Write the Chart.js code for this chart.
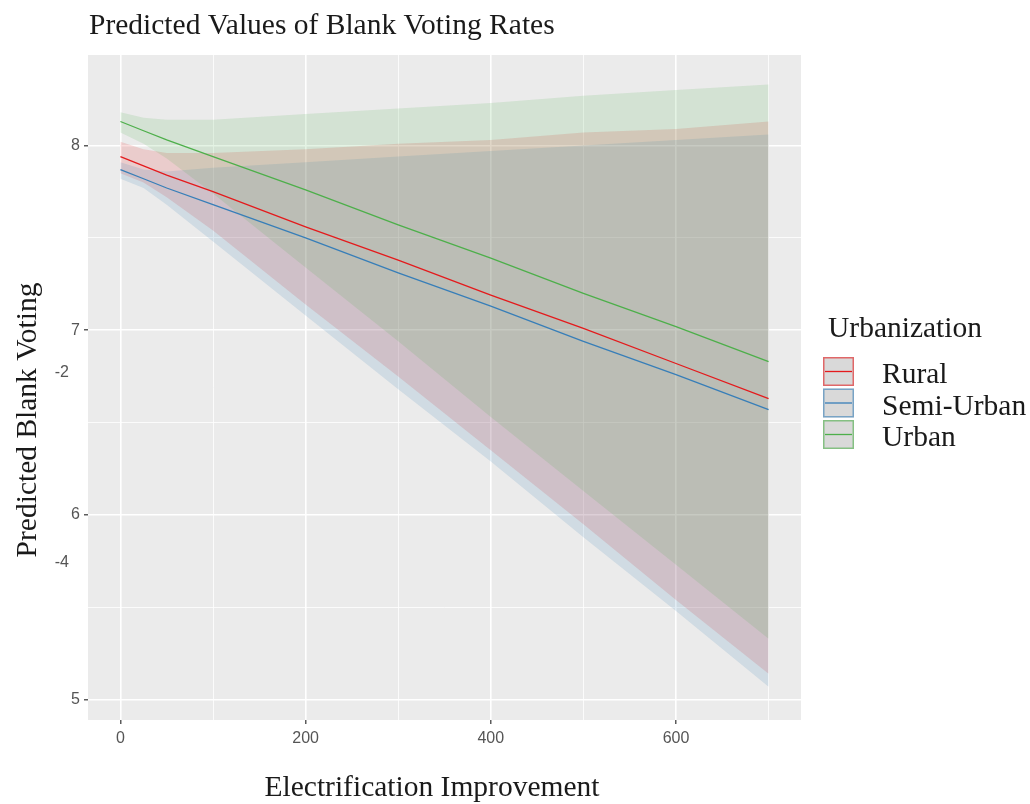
<!DOCTYPE html>
<html>
<head>
<meta charset="utf-8">
<script src="https://cdn.jsdelivr.net/npm/chart.js@4.4.0/dist/chart.umd.min.js"></script>
<style>
  body { margin: 0; background: #fff; }
</style>
</head>
<body>
<canvas id="blankVoting" width="1030" height="804"></canvas>
<script>
var xValues = [0, 25, 50, 100, 200, 300, 400, 500, 600, 700];

var ruralFit   = [7.94, 7.89, 7.84, 7.75, 7.56, 7.38, 7.19, 7.01, 6.82, 6.63];
var ruralUpper = [8.02, 7.98, 7.96, 7.96, 7.98, 8.01, 8.03, 8.07, 8.09, 8.13];
var ruralLower = [7.85, 7.80, 7.72, 7.54, 7.14, 6.75, 6.35, 5.95, 5.54, 5.14];

var semiFit   = [7.87, 7.82, 7.77, 7.68, 7.50, 7.31, 7.13, 6.94, 6.76, 6.57];
var semiUpper = [7.91, 7.87, 7.86, 7.88, 7.91, 7.94, 7.97, 8.00, 8.03, 8.06];
var semiLower = [7.82, 7.77, 7.68, 7.48, 7.08, 6.68, 6.29, 5.88, 5.48, 5.07];

var urbanFit   = [8.13, 8.08, 8.03, 7.94, 7.76, 7.57, 7.39, 7.20, 7.02, 6.83];
var urbanUpper = [8.18, 8.15, 8.14, 8.14, 8.17, 8.20, 8.23, 8.27, 8.30, 8.33];
var urbanLower = [8.07, 8.01, 7.93, 7.74, 7.34, 6.94, 6.53, 6.13, 5.73, 5.33];

var groups = ["Rural", "Semi-Urban", "Urban"];
var lineColors = ["#E41A1C", "#377EB8", "#4DAF4A"];
var ribbonColors = [
  "rgba(228,26,28,0.15)",
  "rgba(55,126,184,0.15)",
  "rgba(77,175,74,0.15)"
];

// stray labels that sit left of the y axis in the original
var strayLabels = ["-2", "-4"];
var strayValues = [6.77, 5.74];

var serif = "'Liberation Serif', 'Times New Roman', serif";
var sans = "'Liberation Sans', Arial, sans-serif";

function pts(ys) {
  return xValues.map(function (x, i) { return {x: x, y: ys[i]}; });
}

// higher order is drawn first, so urban ends on top like ggplot
function ribbon(upper, lower, color, ord) {
  return [
    {data: pts(upper), backgroundColor: color, borderColor: "transparent", borderWidth: 0,
     pointRadius: 0, fill: "+1", order: ord},
    {data: pts(lower), backgroundColor: "transparent", borderColor: "transparent", borderWidth: 0,
     pointRadius: 0, fill: false, order: ord}
  ];
}

function fitLine(ys, color) {
  return {data: pts(ys), borderColor: color, borderWidth: 1.3, pointRadius: 0, fill: false, order: 0};
}

var datasets = []
  .concat(ribbon(ruralUpper, ruralLower, ribbonColors[0], 3))
  .concat(ribbon(semiUpper, semiLower, ribbonColors[1], 2))
  .concat(ribbon(urbanUpper, urbanLower, ribbonColors[2], 1))
  .concat([
    fitLine(ruralFit, lineColors[0]),
    fitLine(semiFit, lineColors[1]),
    fitLine(urbanFit, lineColors[2])
  ]);

var decor = {
  id: "decor",
  beforeDraw: function (chart) {
    var c = chart.ctx, a = chart.chartArea;
    c.save();
    c.fillStyle = "#ffffff";
    c.fillRect(0, 0, chart.width, chart.height);
    c.fillStyle = "#EBEBEB";
    c.fillRect(a.left, a.top, a.right - a.left, a.bottom - a.top);
    c.restore();
  },
  afterDraw: function (chart) {
    var c = chart.ctx, a = chart.chartArea;
    var yScale = chart.scales.y;
    c.save();
    c.fillStyle = "#1a1a1a";

    // title
    c.font = "29.5px " + serif;
    c.textAlign = "left";
    c.textBaseline = "alphabetic";
    c.fillText("Predicted Values of Blank Voting Rates", 89, 34);

    // x axis title
    c.textAlign = "center";
    c.fillText("Electrification Improvement", 432, 796);

    // y axis title
    c.save();
    c.translate(28, 420);
    c.rotate(-Math.PI / 2);
    c.textBaseline = "middle";
    c.fillText("Predicted Blank Voting", 0, 0);
    c.restore();

    // stray labels
    c.font = "16px " + sans;
    c.fillStyle = "#555555";
    c.textAlign = "right";
    c.textBaseline = "middle";
    strayLabels.forEach(function (t, i) {
      c.fillText(t, 69, yScale.getPixelForValue(strayValues[i]));
    });

    // legend
    var lx = a.right + 22, ly = 357;
    c.fillStyle = "#1a1a1a";
    c.font = "29.5px " + serif;
    c.textAlign = "left";
    c.textBaseline = "alphabetic";
    c.fillText("Urbanization", lx + 5, 337);
    groups.forEach(function (g, i) {
      var ky = ly + i * 31.5;
      c.fillStyle = "#D9D9D9";
      c.fillRect(lx, ky, 31, 29);
      c.strokeStyle = lineColors[i];
      c.globalAlpha = 0.6;
      c.lineWidth = 1.5;
      c.strokeRect(lx + 0.75, ky + 0.75, 29.5, 27.5);
      c.globalAlpha = 1;
      c.lineWidth = 1.3;
      c.beginPath();
      c.moveTo(lx + 2, ky + 14.5);
      c.lineTo(lx + 29, ky + 14.5);
      c.stroke();
      c.fillStyle = "#1a1a1a";
      c.fillText(g, lx + 59, ky + 26);
    });
    c.restore();
  }
};

new Chart("blankVoting", {
  type: "line",
  data: {datasets: datasets},
  plugins: [decor],
  options: {
    responsive: false,
    animation: false,
    layout: {padding: {left: 0, top: 55, right: 229, bottom: 0}},
    plugins: {
      legend: {display: false},
      tooltip: {enabled: false},
      filler: {propagate: false}
    },
    scales: {
      x: {
        type: "linear",
        min: -35,
        max: 735,
        afterFit: function (s) { s.height = 84; },
        border: {display: false},
        grid: {
          color: "#ffffff",
          lineWidth: function (ctx) { return ctx.tick && ctx.tick.value % 200 === 0 ? 1.6 : 0.8; },
          tickColor: function (ctx) { return ctx.tick && ctx.tick.value % 200 === 0 ? "#333333" : "rgba(0,0,0,0)"; },
          tickLength: 4,
          tickWidth: 1.2
        },
        ticks: {
          stepSize: 100,
          includeBounds: false,
          maxRotation: 0,
          autoSkip: false,
          padding: 5,
          color: "#555555",
          font: {family: sans, size: 16},
          callback: function (v) { return v % 200 === 0 ? v : ""; }
        }
      },
      y: {
        type: "linear",
        min: 4.89,
        max: 8.49,
        afterFit: function (s) { s.width = 88; },
        border: {display: false},
        grid: {
          color: "#ffffff",
          lineWidth: function (ctx) { return ctx.tick && Number.isInteger(ctx.tick.value) ? 1.6 : 0.8; },
          tickColor: function (ctx) { return ctx.tick && Number.isInteger(ctx.tick.value) ? "#333333" : "rgba(0,0,0,0)"; },
          tickLength: 4,
          tickWidth: 1.2
        },
        ticks: {
          stepSize: 0.5,
          includeBounds: false,
          autoSkip: false,
          padding: 4,
          color: "#555555",
          font: {family: sans, size: 16},
          callback: function (v) { return Number.isInteger(v) ? v : ""; }
        }
      }
    }
  }
});
</script>
</body>
</html>
